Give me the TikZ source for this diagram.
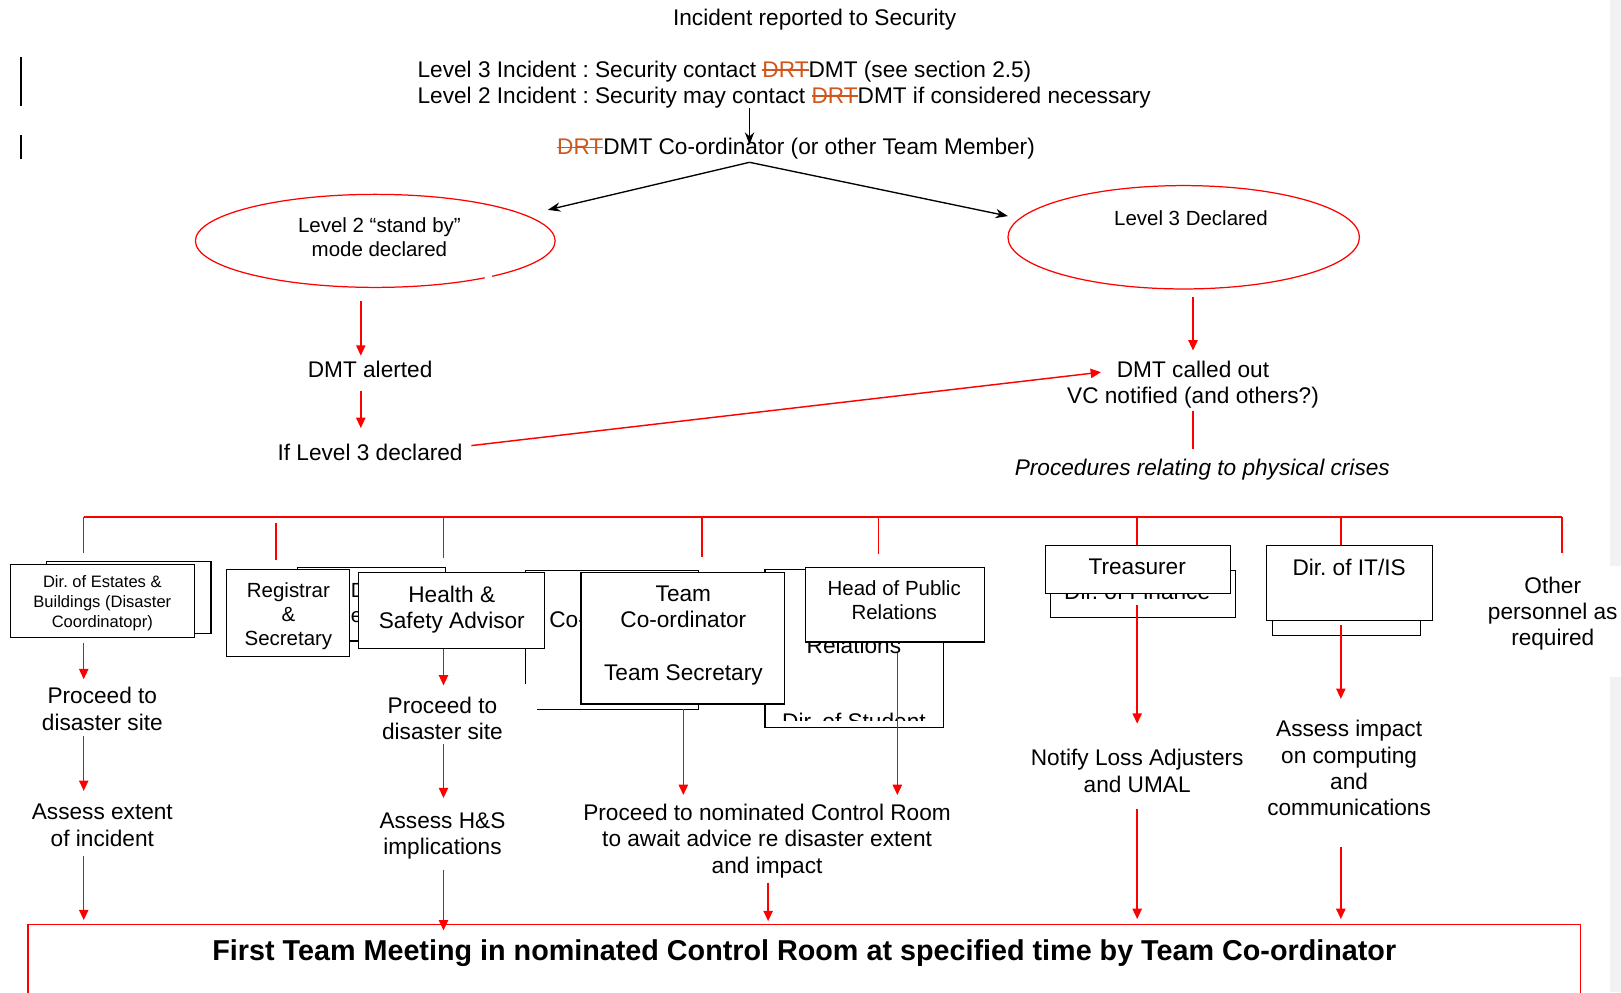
\documentclass[tikz,border=0pt]{standalone}
\usepackage{fontspec}
\setmainfont{Liberation Sans}
\usetikzlibrary{arrows.meta,shapes.geometric,fit}
\definecolor{drtc}{HTML}{D0561B}
\definecolor{stripgray}{HTML}{F2F2F2}
\newsavebox\drtbox
\newcommand\drtstrike{{\color{drtc}\sbox\drtbox{DRT}\rlap{\rule[0.3em]{\wd\drtbox}{0.07em}}\usebox\drtbox}}
\newcommand\mainsz{\fontsize{10.95}{12.65}\selectfont\frenchspacing}
\newcommand\smallsz{\fontsize{9.9}{11.5}\selectfont\frenchspacing}
\newcommand\tinysz{\fontsize{8}{9.5}\selectfont\frenchspacing}
\newcommand\boldsz{\fontsize{13.9}{16}\selectfont\bfseries\frenchspacing}
\frenchspacing
\begin{document}
\begin{tikzpicture}[x=0.5pt,y=-0.5pt,
  txt/.style={inner sep=0pt, outer sep=0pt, align=center, font=\mainsz, anchor=north},
  stxt/.style={txt, font=\smallsz},
  ttxt/.style={txt, font=\tinysz},
  box/.style={draw=black, fill=white, line width=0.6pt, inner sep=0pt, outer sep=0pt},
  boxline/.style={draw=black, line width=0.6pt},
  redline/.style={draw=red, line width=0.7pt},
  redarrow/.style={redline, -{Triangle[length=5pt,width=4.5pt]}},
  blkarrow/.style={draw=black, line width=0.65pt, -{Stealth[length=6pt,width=4.5pt]}},
  ell/.style={draw=red, line width=0.6pt, ellipse, inner sep=0pt}
]
\clip (0,0) rectangle (1568,960);
\fill[white] (0,0) rectangle (1568,960);
% grey strip at right edge
\fill[stripgray] (1557,0) rectangle (1568,547);
\fill[stripgray] (1557,655) rectangle (1568,960);

% change bars
\draw[line width=1.1pt] (20,55) -- (20,103);
\draw[line width=1.1pt] (20,131) -- (20,154);

% top texts
\node[txt] (inc) at (788,9) {Incident reported to Security};
\node[txt, anchor=north west, align=left] (lev) at (404,59) {Level 3 Incident : Security contact \drtstrike DMT (see section 2.5)\\Level 2 Incident : Security may contact \drtstrike DMT if considered necessary};
\node[txt] (coord) at (770,134) {\drtstrike DMT Co-ordinator (or other Team Member)};

\coordinate (a0s) at (725,104);
\coordinate (a0e) at (725,140);
\draw[blkarrow] (a0s) -- (a0e);
\coordinate (apex) at (725,157);
\coordinate (tipL) at (530,203);
\coordinate (tipR) at (975,209);
\draw[blkarrow] (apex) -- (tipL);
\draw[blkarrow] (apex) -- (tipR);

% ellipses
\node[ell, minimum width=174pt, minimum height=45pt] (ellL) at (363,233) {};
\draw[white, line width=1.6pt] (469,268.7) -- (476,267.2);
\node[ell, minimum width=170pt, minimum height=50pt] (ellR) at (1145,229.5) {};
\node[stxt] (l2t) at (367,211) {Level 2 “stand by”\\mode declared};
\node[stxt] (l3t) at (1152,204) {Level 3 Declared};

% left branch
\coordinate (b1s) at (349,291); \coordinate (b1e) at (349,344);
\draw[redarrow] (b1s) -- (b1e);
\node[txt] (alert) at (358,349) {DMT alerted};
\coordinate (b2s) at (349,378); \coordinate (b2e) at (349,414);
\draw[redarrow] (b2s) -- (b2e);
\node[txt] (iflev) at (358,430) {If Level 3 declared};
\coordinate (b3s) at (456,431); \coordinate (b3e) at (1065,360);
\draw[redarrow] (b3s) -- (b3e);

% right branch
\coordinate (c1s) at (1154,287); \coordinate (c1e) at (1154,339);
\draw[redarrow] (c1s) -- (c1e);
\node[txt] (called) at (1154,349) {DMT called out\\VC notified (and others?)};
\coordinate (c2s) at (1154,398); \coordinate (c2e) at (1154,434);
\draw[redline] (c2s) -- (c2e);
\node[txt, font=\mainsz\itshape] (proc) at (1163,444) {Procedures relating to physical crises};

% bus
\coordinate (busL) at (81,500); \coordinate (busR) at (1511,500);
\draw[redline] (busL) -- (busR);
\foreach \x/\yb/\ye in {81/500/535, 267/506/542, 429/500/540, 679/500/539, 850/500/536, 1100/500/528, 1297/500/528, 1511/500/535}
  \draw[redline] (\x,\yb) -- (\x,\ye);

% boxes: Dir of Estates
\node[box, fit={(45,543) (204,613)}] (estB) {};
\node[box, fit={(10,546) (188,617)}] (estF) {};
\node[ttxt] (estT) at (99,557) {Dir. of Estates \&\\Buildings (Disaster\\Coordinatopr)};

% hidden box behind Registrar / Health
\node[box, fit={(288,549) (431,620)}] (hidB) {};
\node[inner sep=0pt, font=\smallsz, anchor=west] (hidBt1) at (339,571) {D};
\node[inner sep=0pt, font=\smallsz, anchor=west] (hidBt2) at (339,597) {e};

% hidden box behind Team Co-ordinator
\node[fill=white, inner sep=0pt, fit={(508,552) (676,686)}] (hidC) {};
\draw[boxline] (508,662) -- (508,552) -- (676,552) -- (676,686) -- (519,686);
\begin{scope}
  \clip (528,560) rectangle (561,640);
  \node[inner sep=0pt, font=\mainsz, anchor=west] (hidCt) at (531,599) {Co-};
\end{scope}

% hidden box behind Head of PR
\node[box, fit={(740,551) (913,704)}] (hidD) {};
\node[txt] (hidDt1) at (826,616) {Relations};
\begin{scope}
  \clip (740,551) rectangle (913,697);
  \node[txt] (hidDt2) at (826,690) {Dir. of Student};
\end{scope}

% Registrar
\node[box, fit={(219,551) (338,635)}] (reg) {};
\node[stxt] (regT) at (279,564) {Registrar\\\&\\Secretary};
% Health & Safety
\node[box, fit={(347,554) (527,627)}] (hs) {};
\node[txt] (hsT) at (437,567) {Health \&\\Safety Advisor};
% Team Co-ordinator
\node[box, fit={(562,554) (759,681)}] (team) {};
\node[txt] (teamT) at (661,567) {Team\\Co-ordinator\\[12.65pt]Team Secretary};
% Head of PR
\node[box, fit={(779,549) (952,621)}] (hpr) {};
\node[stxt] (hprT) at (865,562) {Head of Public\\Relations};

% Finance / Treasurer
\node[box, fit={(1016,552) (1195,597)}] (fin) {};
\node[txt] (finT) at (1100,564) {Dir. of Finance};
\node[box, fit={(1011,528) (1190,574)}] (tre) {};
\node[txt] (treT) at (1100,541) {Treasurer};

% IT/IS
\node[box, fit={(1231,560) (1374,615)}] (itB) {};
\node[box, fit={(1225,528) (1386,600)}] (it) {};
\node[txt] (itT) at (1305,541) {Dir. of IT/IS};

% other personnel
\node[txt] (oth) at (1502,558) {Other\\personnel as\\required};

% column 1
\draw[redarrow] (81,622) -- (81,657);
\node[txt] (p1) at (99,665) {Proceed to\\disaster site};
\draw[redarrow] (81,712) -- (81,765);
\node[txt] (as1) at (99,778) {Assess extent\\of incident};
\draw[redarrow] (81,828) -- (81,890);

% column 2
\draw[redarrow] (429,628) -- (429,663);
\node[txt] (p2) at (428,674) {Proceed to\\disaster site};
\draw[redarrow] (429,720) -- (429,772);
\node[txt] (as2) at (428,786) {Assess H\&S\\implications};
\draw[redarrow] (429,842) -- (429,900);

% column 3
\draw[redarrow] (661,686) -- (661,769);
\draw[redarrow] (868,632) -- (868,769);
\node[txt] (ctrl) at (742,778) {Proceed to nominated Control Room\\to await advice re disaster extent\\and impact};
\draw[redarrow] (743,854) -- (743,891);

% column 4
\draw[redarrow] (1100,585) -- (1100,700);
\node[txt] (notify) at (1100,725) {Notify Loss Adjusters\\and UMAL};
\draw[redarrow] (1100,783) -- (1100,889);

% column 5
\draw[redarrow] (1297,605) -- (1297,676);
\node[txt] (impact) at (1305,697) {Assess impact\\on computing\\and\\communications};
\draw[redarrow] (1297,819) -- (1297,889);

% meeting box
\node[draw=red, line width=0.6pt, inner sep=0pt, fit={(27,894) (1529,1000)}] (meetbox) {};
\node[txt, font=\boldsz] (meet) at (778,909) {First Team Meeting in nominated Control Room at specified time by Team Co-ordinator};
\end{tikzpicture}
\end{document}
